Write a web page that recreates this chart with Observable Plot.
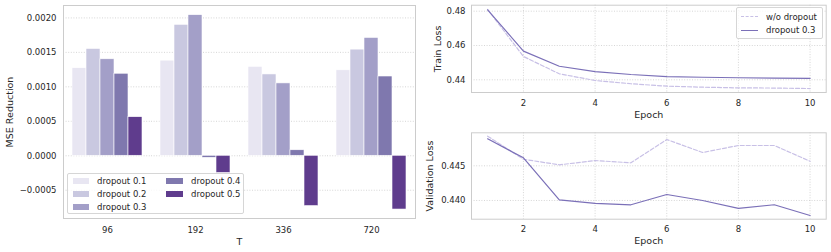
<!DOCTYPE html>
<html>
<head>
<meta charset="utf-8">
<script src="https://cdn.jsdelivr.net/npm/d3@7"></script>
<script src="https://cdn.jsdelivr.net/npm/@observablehq/plot@0.6"></script>
<style>
  html, body { margin: 0; padding: 0; background: white; }
  #wrap { position: relative; width: 831px; height: 252px; font-family: "DejaVu Sans", sans-serif; color: #262626; overflow: hidden; background: white; }
  .panel { position: absolute; }
  .panel svg { display: block; }
  .panel svg [aria-label$="axis label"] text, .panel svg [aria-label$="axis label"] { font-size: 9.5px; }
  .legend { position: absolute; background: rgba(255,255,255,0.8); border: 1px solid #d6d6d6; border-radius: 2px; box-sizing: border-box; font-size: 8.5px; color: #262626; }
  .legend .item { position: absolute; white-space: nowrap; line-height: 10px; }
  .legend .sw { position: absolute; }
</style>
</head>
<body>
<div id="wrap">
  <div class="panel" id="left" style="left:0;top:0"></div>
  <div class="panel" id="rtop" style="left:420px;top:0"></div>
  <div class="panel" id="rbot" style="left:420px;top:120px"></div>
</div>
<script>
// ---- Data ----
const T = ["96", "192", "336", "720"];
const dropouts = ["dropout 0.1", "dropout 0.2", "dropout 0.3", "dropout 0.4", "dropout 0.5"];
const mse01 = [0.00127, 0.00138, 0.00129, 0.00124];
const mse02 = [0.00155, 0.00190, 0.00118, 0.00154];
const mse03 = [0.00140, 0.00204, 0.00105, 0.00171];
const mse04 = [0.00119, -0.00003, 0.00008, 0.00115];
const mse05 = [0.00056, -0.00025, -0.00073, -0.00078];
const mseTicks = [-0.0005, 0, 0.0005, 0.0010, 0.0015, 0.0020];

const epochs = [1, 2, 3, 4, 5, 6, 7, 8, 9, 10];
const trainNoDrop = [0.4810, 0.4536, 0.4435, 0.4396, 0.4377, 0.4363, 0.4357, 0.4353, 0.4352, 0.4349];
const trainDrop   = [0.4808, 0.4567, 0.4479, 0.4448, 0.4431, 0.4419, 0.4415, 0.4412, 0.4410, 0.4408];
const valNoDrop   = [0.44927, 0.44595, 0.44514, 0.44576, 0.44543, 0.44879, 0.44692, 0.44793, 0.44793, 0.44566];
const valDrop     = [0.44889, 0.44615, 0.44010, 0.43957, 0.43938, 0.44086, 0.44000, 0.43885, 0.43938, 0.43784];
const epochTicks = [2, 4, 6, 8, 10];
const trainTicks = [0.44, 0.46, 0.48];
const valTicks = [0.440, 0.445];
const seriesNames = ["w/o dropout", "dropout 0.3"];

// ---- Styles ----
const barColors = ["#e8e6f2", "#c9c8e0", "#a39fc8", "#7f78ae", "#5f3c8d"];
const lineColors = ["#c8c0e6", "#7b70b8"];
const gridStyle = {stroke: "#cccccc", strokeOpacity: 1, strokeWidth: 0.8, strokeDasharray: "1,1.6"};
const baseStyle = {fontFamily: "DejaVu Sans, sans-serif", fontSize: "8.5px", color: "#262626", background: "transparent", overflow: "visible"};

// ---- Left: grouped bars ----
const mseSeries = [mse01, mse02, mse03, mse04, mse05];
const bars = [];
dropouts.forEach((d, di) => T.forEach((t, ti) => bars.push({T: t, dropout: d, value: mseSeries[di][ti]})));

const left = Plot.plot({
  width: 420, height: 252,
  marginLeft: 62, marginRight: 4.5, marginTop: 5, marginBottom: 34,
  style: baseStyle,
  fx: {domain: T, padding: 0, axis: "bottom", label: "T", labelAnchor: "center", labelArrow: "none", tickSize: 0, tickPadding: 8, labelOffset: 26},
  x: {domain: dropouts, paddingInner: 0, paddingOuter: 0.625, axis: null},
  y: {domain: [-0.00091, 0.00218], ticks: mseTicks, tickFormat: d3.format(".4f"), label: "MSE Reduction", labelAnchor: "center", labelArrow: "none", tickSize: 0, tickPadding: 7, labelOffset: 57},
  color: {domain: dropouts, range: barColors},
  marks: [
    Plot.gridY(mseTicks, gridStyle),
    Plot.barY(bars, {fx: "T", x: "dropout", y: "value", fill: "dropout", stroke: "white", strokeWidth: 0.6}),
    Plot.frame({facet: "super", stroke: "#cccccc", strokeWidth: 1})
  ]
});
document.getElementById("left").appendChild(left);

// ---- Right: line charts ----
function linePlot(noDrop, drop, ticks, fmt, label, opts) {
  const rows = [];
  epochs.forEach((e, i) => {
    rows.push({epoch: e, loss: noDrop[i], series: seriesNames[0]});
    rows.push({epoch: e, loss: drop[i], series: seriesNames[1]});
  });
  return Plot.plot({
    width: 411, height: opts.height,
    marginLeft: 51, marginRight: 5.3, marginTop: opts.top, marginBottom: opts.bottom,
    style: baseStyle,
    x: {domain: [0.55, 10.45], ticks: epochTicks, tickFormat: d3.format("d"), label: "Epoch", labelAnchor: "center", labelArrow: "none", tickSize: 0, tickPadding: 7, labelOffset: 25},
    y: {domain: opts.domain, ticks, tickFormat: d3.format(fmt), label, labelAnchor: "center", labelArrow: "none", tickSize: 0, tickPadding: 6, labelOffset: opts.labelOffset},
    color: {domain: seriesNames, range: lineColors},
    marks: [
      Plot.gridX(epochTicks, gridStyle),
      Plot.gridY(ticks, gridStyle),
      Plot.line(rows.filter(r => r.series === seriesNames[0]), {x: "epoch", y: "loss", stroke: "series", strokeWidth: 1.2, strokeDasharray: "4,2"}),
      Plot.line(rows.filter(r => r.series === seriesNames[1]), {x: "epoch", y: "loss", stroke: "series", strokeWidth: 1.2}),
      Plot.frame({stroke: "#cccccc", strokeWidth: 1})
    ]
  });
}
document.getElementById("rtop").appendChild(linePlot(trainNoDrop, trainDrop, trainTicks, ".2f", "Train Loss", {height: 120, top: 4.7, bottom: 28, domain: [0.4326, 0.4835], labelOffset: 37.5}));
document.getElementById("rbot").appendChild(linePlot(valNoDrop, valDrop, valTicks, ".3f", "Validation Loss", {height: 132, top: 12.3, bottom: 33.3, domain: [0.4373, 0.44976], labelOffset: 45.5}));

// ---- Legends (HTML overlays) ----
const wrap = document.getElementById("wrap");
function addLegend(box, items) {
  const lg = document.createElement("div");
  lg.className = "legend";
  Object.assign(lg.style, {left: box.left + "px", top: box.top + "px", width: box.width + "px", height: box.height + "px"});
  items.forEach(it => {
    const sw = document.createElement("div");
    sw.className = "sw";
    Object.assign(sw.style, it.swStyle);
    lg.appendChild(sw);
    const tx = document.createElement("div");
    tx.className = "item";
    tx.textContent = it.label;
    Object.assign(tx.style, {left: it.tx + "px", top: (it.cy - 5) + "px"});
    lg.appendChild(tx);
  });
  wrap.appendChild(lg);
}
// bar legend: two columns
const colX = [[5, 29.3], [98.3, 123.3]];
const rowY = [7.3, 20.2, 33];
addLegend({left: 66.7, top: 172.7, width: 177.5, height: 41.5},
  dropouts.map((d, i) => {
    const col = i < 3 ? 0 : 1, row = i < 3 ? i : i - 3;
    return {
      label: d, tx: colX[col][1], cy: rowY[row],
      swStyle: {left: colX[col][0] + "px", top: (rowY[row] - 3) + "px", width: "16.7px", height: "6px", background: barColors[i]}
    };
  }));
// line legend
addLegend({left: 736, top: 7.3, width: 86.5, height: 32},
  seriesNames.map((s, i) => ({
    label: s, tx: 29, cy: [8.7, 22][i],
    swStyle: {left: "4px", top: ([8.7, 22][i] - 0.6) + "px", width: "16.7px", height: "0",
      borderTop: "1.2px " + (i === 0 ? "dashed" : "solid") + " " + lineColors[i]}
  })));
</script>
</body>
</html>
